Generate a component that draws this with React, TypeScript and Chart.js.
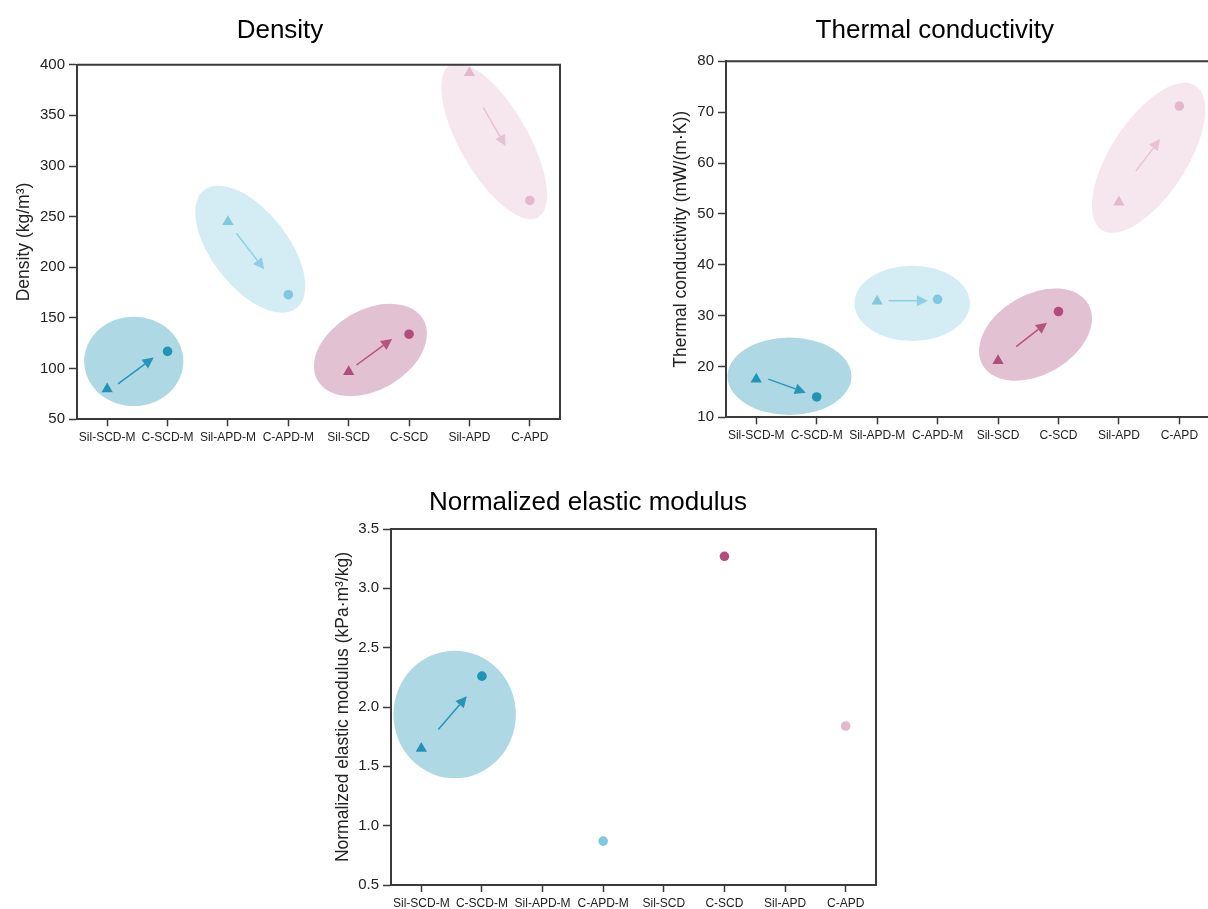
import React, { useEffect, useRef } from 'react';
import { Chart, registerables } from 'chart.js';

Chart.register(...registerables);

const FONT = '"Liberation Sans", Arial, Helvetica, sans-serif';

// ---------- data ----------
const CATEGORIES = ['Sil-SCD-M', 'C-SCD-M', 'Sil-APD-M', 'C-APD-M', 'Sil-SCD', 'C-SCD', 'Sil-APD', 'C-APD'];
const GROUP_OF = [0, 0, 1, 1, 2, 2, 3, 3];
const SHAPE_OF = ['triangle', 'circle', 'triangle', 'circle', 'triangle', 'circle', 'triangle', 'circle'];

const DENSITY = [80, 117, 245, 173, 97, 134, 392, 266];
const THERMAL = [17.5, 14.0, 32.8, 33.2, 21.1, 30.8, 52.3, 71.2];
const MODULUS: (number | null)[] = [1.65, 2.26, null, 0.87, null, 3.27, null, 1.84];

const DENSITY_TICKS = [50, 100, 150, 200, 250, 300, 350, 400];
const THERMAL_TICKS = [10, 20, 30, 40, 50, 60, 70, 80];
const MODULUS_TICKS = [0.5, 1.0, 1.5, 2.0, 2.5, 3.0, 3.5];

// arrows (data units): group, start x, start y, tip x, tip y
const DENSITY_ARROWS = [
  [0, 1.18, 84.9, 1.77, 110.9],
  [1, 3.14, 233.6, 3.6, 198],
  [2, 5.13, 103.6, 5.72, 129.3],
  [3, 7.23, 357.6, 7.6, 319.7],
];
const THERMAL_ARROWS = [
  [0, 1.2, 17.5, 1.82, 14.85],
  [1, 3.19, 32.9, 3.84, 32.9],
  [2, 5.3, 23.9, 5.81, 28.6],
  [3, 7.28, 58.4, 7.68, 64.7],
];
const MODULUS_ARROWS = [[0, 1.28, 1.81, 1.75, 2.09]];

// halo ellipses: group, centre x, centre y (data units)
const DENSITY_HALOS = [
  [0, 1.44, 107.2],
  [1, 3.37, 217.9],
  [2, 5.36, 118.4],
  [3, 7.41, 324.5],
];
const THERMAL_HALOS = [
  [0, 1.55, 18.06],
  [1, 3.58, 32.4],
  [2, 5.62, 26.25],
  [3, 7.49, 61.03],
];
const MODULUS_HALOS = [[0, 1.55, 1.937]];

// ---------- styles ----------
const MARKER_COLORS = ['#1f94b5', '#7ec8e0', '#b14c7d', '#e2b9cc'];
const ARROW_COLORS = ['#2596b8', '#8dd0e6', '#b5557f', '#e6c3d3'];
const HALO_COLORS = ['#afd8e5', '#d4ecf4', '#e2c1d2', '#f6e7ee'];
// halo shapes (px semi-axes, rotation deg), same order as halo lists
const DENSITY_HALO_SHAPES = [
  [49.6, 44.7, 0],
  [75, 38, 52],
  [61, 40, -30],
  [88, 34, 60],
];
const THERMAL_HALO_SHAPES = [
  [62, 38.7, 0],
  [57.7, 37.7, 0],
  [61, 40, -30],
  [86, 38, -57],
];
const MODULUS_HALO_SHAPES = [[61.2, 63.8, 0]];

const AXIS_COLOR = '#3a3a3a';

type Geom = {
  left: number; top: number; width: number; height: number;
  plotLeft: number; plotRight: number; plotTop: number; plotBottom: number;
  titleMid: number; yTitleX: number;
};

type Spec = {
  title: string;
  yTitle: string;
  values: (number | null)[];
  ticks: number[];
  decimals: number;
  arrows: number[][];
  halos: number[][];
  haloShapes: number[][];
  geom: Geom;
};

function makeOverlay(spec: Spec) {
  return {
    id: 'overlay',
    beforeDatasetsDraw(chart: any) {
      const { ctx, chartArea } = chart;
      const xs = chart.scales.x;
      const ys = chart.scales.y;
      ctx.save();
      ctx.beginPath();
      ctx.rect(chartArea.left, chartArea.top, chartArea.right - chartArea.left, chartArea.bottom - chartArea.top);
      ctx.clip();
      spec.halos.forEach((h, i) => {
        const [g, x, y] = h;
        const [a, b, rot] = spec.haloShapes[i];
        ctx.beginPath();
        ctx.ellipse(xs.getPixelForValue(x), ys.getPixelForValue(y), a, b, (rot * Math.PI) / 180, 0, Math.PI * 2);
        ctx.fillStyle = HALO_COLORS[g];
        ctx.fill();
      });
      spec.arrows.forEach((ar) => {
        const [g, x0, y0, x1, y1] = ar;
        const px0 = xs.getPixelForValue(x0);
        const py0 = ys.getPixelForValue(y0);
        const px1 = xs.getPixelForValue(x1);
        const py1 = ys.getPixelForValue(y1);
        const ang = Math.atan2(py1 - py0, px1 - px0);
        const headL = 11;
        const headW = 5.5;
        const bx = px1 - Math.cos(ang) * headL;
        const by = py1 - Math.sin(ang) * headL;
        ctx.strokeStyle = ARROW_COLORS[g];
        ctx.fillStyle = ARROW_COLORS[g];
        ctx.lineWidth = 1.5;
        ctx.beginPath();
        ctx.moveTo(px0, py0);
        ctx.lineTo(bx, by);
        ctx.stroke();
        ctx.beginPath();
        ctx.moveTo(px1, py1);
        ctx.lineTo(bx + Math.sin(ang) * headW, by - Math.cos(ang) * headW);
        ctx.lineTo(bx - Math.sin(ang) * headW, by + Math.cos(ang) * headW);
        ctx.closePath();
        ctx.fill();
      });
      ctx.restore();
    },
    afterDraw(chart: any) {
      const { ctx, chartArea } = chart;
      ctx.save();
      ctx.strokeStyle = AXIS_COLOR;
      ctx.lineWidth = 2;
      ctx.beginPath();
      ctx.moveTo(chartArea.left, chartArea.top);
      ctx.lineTo(chartArea.right, chartArea.top);
      ctx.lineTo(chartArea.right, chartArea.bottom);
      ctx.stroke();
      ctx.restore();
    },
  };
}

function buildConfig(spec: Spec): any {
  const g = spec.geom;
  const idx = spec.values.map((v, i) => (v == null ? -1 : i)).filter((i) => i >= 0);
  const points = idx.map((i) => ({ x: i + 1, y: spec.values[i] as number }));
  const titlePadTop = g.titleMid - g.top - 15.6;
  const titlePadBottom = g.plotTop - g.top - titlePadTop - 31.2;
  return {
    type: 'scatter',
    data: {
      datasets: [
        {
          data: points,
          pointStyle: idx.map((i) => SHAPE_OF[i]),
          pointRadius: idx.map((i) => (SHAPE_OF[i] === 'triangle' ? 6.5 : 4.8)),
          pointBackgroundColor: idx.map((i) => MARKER_COLORS[GROUP_OF[i]]),
          pointBorderWidth: 0,
          pointBorderColor: 'rgba(0,0,0,0)',
          showLine: false,
          clip: false,
        },
      ],
    },
    options: {
      responsive: false,
      animation: false,
      events: [],
      layout: {
        padding: { left: 0, top: 0, bottom: 0, right: g.left + g.width - g.plotRight },
      },
      plugins: {
        legend: { display: false },
        tooltip: { enabled: false },
        title: {
          display: true,
          text: spec.title,
          color: '#000',
          font: { family: FONT, size: 26, weight: 'normal' },
          padding: { top: titlePadTop, bottom: titlePadBottom },
        },
      },
      scales: {
        x: {
          type: 'linear',
          min: 0.5,
          max: 8.5,
          afterBuildTicks: (scale: any) => {
            scale.ticks = CATEGORIES.map((_, i) => ({ value: i + 1 }));
          },
          afterFit: (scale: any) => {
            scale.height = g.top + g.height - g.plotBottom;
          },
          ticks: {
            autoSkip: false,
            maxRotation: 0,
            minRotation: 0,
            padding: 4,
            color: '#222',
            font: { family: FONT, size: 12 },
            callback: (v: any) => {
              const i = Math.round(Number(v)) - 1;
              return CATEGORIES[i] ?? '';
            },
          },
          grid: {
            display: true,
            drawOnChartArea: false,
            drawTicks: true,
            tickLength: 7,
            tickWidth: 1.5,
            tickColor: AXIS_COLOR,
          },
          border: { display: true, color: AXIS_COLOR, width: 2 },
        },
        y: {
          type: 'linear',
          min: spec.ticks[0],
          max: spec.ticks[spec.ticks.length - 1],
          afterBuildTicks: (scale: any) => {
            scale.ticks = spec.ticks.map((v) => ({ value: v }));
          },
          afterFit: (scale: any) => {
            scale.width = g.plotLeft - g.left;
          },
          ticks: {
            padding: 4,
            color: '#222',
            font: { family: FONT, size: 15 },
            callback: (v: any) => Number(v).toFixed(spec.decimals),
          },
          grid: {
            display: true,
            drawOnChartArea: false,
            drawTicks: true,
            tickLength: 8,
            tickWidth: 1.5,
            tickColor: AXIS_COLOR,
          },
          border: { display: true, color: AXIS_COLOR, width: 2 },
          title: {
            display: true,
            text: spec.yTitle,
            color: '#222',
            font: { family: FONT, size: 17.5 },
            padding: { top: g.yTitleX - g.left - 10.5, bottom: 0 },
          },
        },
      },
    },
    plugins: [makeOverlay(spec)],
  };
}

const SPECS: Spec[] = [
  {
    title: 'Density',
    yTitle: 'Density (kg/m\u00B3)',
    values: DENSITY,
    ticks: DENSITY_TICKS,
    decimals: 0,
    arrows: DENSITY_ARROWS,
    halos: DENSITY_HALOS,
    haloShapes: DENSITY_HALO_SHAPES,
    geom: { left: 0, top: 0, width: 608, height: 460, plotLeft: 77, plotRight: 560, plotTop: 64.7, plotBottom: 419.3, titleMid: 31, yTitleX: 24 },
  },
  {
    title: 'Thermal conductivity',
    yTitle: 'Thermal conductivity (mW/(m\u00B7K))',
    values: THERMAL,
    ticks: THERMAL_TICKS,
    decimals: 0,
    arrows: THERMAL_ARROWS,
    halos: THERMAL_HALOS,
    haloShapes: THERMAL_HALO_SHAPES,
    geom: { left: 660, top: 0, width: 643.4, height: 460, plotLeft: 726, plotRight: 1210, plotTop: 61.3, plotBottom: 417.3, titleMid: 31, yTitleX: 681 },
  },
  {
    title: 'Normalized elastic modulus',
    yTitle: 'Normalized elastic modulus (kPa\u00B7m\u00B3/kg)',
    values: MODULUS,
    ticks: MODULUS_TICKS,
    decimals: 1,
    arrows: MODULUS_ARROWS,
    halos: MODULUS_HALOS,
    haloShapes: MODULUS_HALO_SHAPES,
    geom: { left: 300, top: 470, width: 664, height: 439, plotLeft: 391, plotRight: 876, plotTop: 529, plotBottom: 885, titleMid: 503, yTitleX: 343 },
  },
];

function Panel({ spec }: { spec: Spec }) {
  const ref = useRef<HTMLCanvasElement | null>(null);
  useEffect(() => {
    if (!ref.current) return;
    const chart = new Chart(ref.current, buildConfig(spec));
    return () => chart.destroy();
  }, [spec]);
  const g = spec.geom;
  return (
    <canvas
      ref={ref}
      width={g.width}
      height={g.height}
      style={{ position: 'absolute', left: g.left, top: g.top, width: g.width, height: g.height }}
    />
  );
}

export default function App() {
  return (
    <div
      style={{
        position: 'absolute',
        left: 0,
        top: 0,
        width: 1208,
        height: 909,
        overflow: 'hidden',
        background: '#fff',
      }}
    >
      {SPECS.map((s, i) => (
        <Panel key={i} spec={s} />
      ))}
    </div>
  );
}
